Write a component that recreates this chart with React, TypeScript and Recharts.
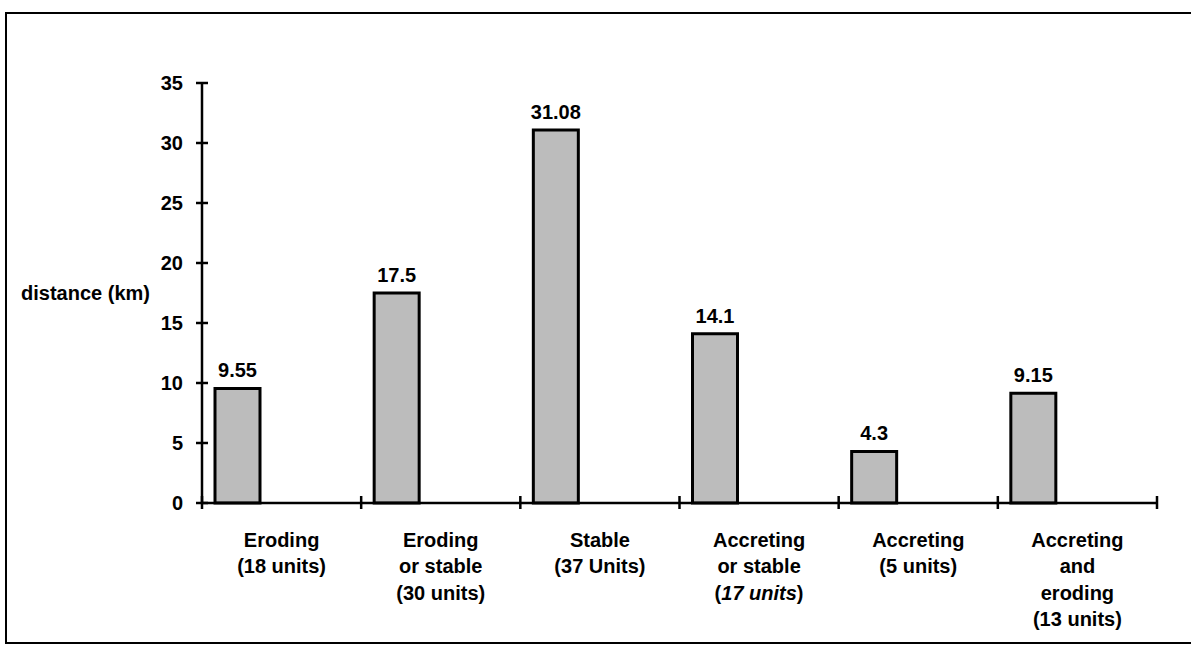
import { ComposedChart, Bar, XAxis, YAxis, LabelList } from 'recharts';

const categories = ['Eroding', 'Eroding or stable', 'Stable', 'Accreting or stable', 'Accreting', 'Accreting and eroding'];
const distances = [9.55, 17.5, 31.08, 14.1, 4.3, 9.15];
const categoryLines = [
  ['Eroding', '(18 units)'],
  ['Eroding', 'or stable', '(30 units)'],
  ['Stable', '(37 Units)'],
  ['Accreting', 'or stable', '(17 units)'],
  ['Accreting', '(5 units)'],
  ['Accreting', 'and', 'eroding', '(13 units)'],
];
const italicUnits = [false, false, false, true, false, false];
const yTicks = [0, 5, 10, 15, 20, 25, 30, 35];

const data = categories.map((name, i) => ({ name, distance: distances[i], lines: categoryLines[i], italic: italicUnits[i] }));

const FONT = '"Liberation Sans", Arial, sans-serif';

const YTick = ({ x, y, payload }: any) => (
  <g>
    <line x1={x - 6} x2={x + 6} y1={y} y2={y} stroke="#000" strokeWidth={2.5} />
    <text x={x - 19} y={y} dy="0.36em" textAnchor="end" fontFamily={FONT} fontWeight="bold" fontSize={20} fill="#000">
      {payload.value}
    </text>
  </g>
);

// category labels sit mid-band; the tick marks sit on the band edges
const CategoryTick = ({ x, y, index, width, visibleTicksCount }: any) => {
  const row = data[index];
  if (!row) return null;
  const half = width && visibleTicksCount ? width / visibleTicksCount / 2 : 0;
  const last = index === visibleTicksCount - 1;
  return (
    <g>
      {half > 0 && <line x1={x - half} x2={x - half} y1={y - 7} y2={y + 6} stroke="#000" strokeWidth={2.5} />}
      {half > 0 && last && <line x1={x + half} x2={x + half} y1={y - 7} y2={y + 6} stroke="#000" strokeWidth={2.5} />}
      <text x={x} y={y + 44} textAnchor="middle" fontFamily={FONT} fontWeight="bold" fontSize={20} fill="#000">
        {row.lines.map((line: string, i: number) => {
          const italic = row.italic && line.startsWith('(');
          return (
            <tspan key={i} x={x} dy={i === 0 ? 0 : 26.3}>
              {italic ? (
                <>
                  (<tspan fontStyle="italic">{line.slice(1, -1)}</tspan>)
                </>
              ) : line}
            </tspan>
          );
        })}
      </text>
    </g>
  );
};

export default function App() {
  return (
    <div style={{ position: 'absolute', left: 0, top: 0, width: 1191, height: 647, overflow: 'hidden', background: '#fff' }}>
      <div style={{ position: 'absolute', left: 5, top: 12, width: 1220, height: 632, border: '2.5px solid #000', boxSizing: 'border-box' }} />
      <div style={{ position: 'absolute', left: 0, top: 0 }}>
        <ComposedChart width={1191} height={647} data={data} margin={{ top: 83, right: 34, bottom: 143, left: 0 }} barGap={0}>
          <XAxis
            dataKey="name"
            height={1}
            interval={0}
            tickSize={0}
            tickMargin={0}
            tickLine={false}
            axisLine={{ stroke: '#000', strokeWidth: 2.5 }}
            tick={<CategoryTick />}
          />
          <YAxis
            width={202}
            domain={[0, 35]}
            ticks={yTicks}
            interval={0}
            tickSize={0}
            tickMargin={0}
            tickLine={false}
            axisLine={{ stroke: '#000', strokeWidth: 2.5 }}
            tick={<YTick />}
            label={{ value: 'distance (km)', position: 'insideRight', offset: 52, angle: 0, fontFamily: FONT, fontWeight: 'bold', fontSize: 20, fill: '#000' }}
          />
          <Bar dataKey="distance" barSize={45} fill="#bcbcbc" stroke="#000" strokeWidth={3} isAnimationActive={false}>
            <LabelList dataKey="distance" position="top" offset={11} fontFamily={FONT} fontWeight="bold" fontSize={20} fill="#000" />
          </Bar>
          <Bar dataKey="distance" barSize={88} fill="transparent" stroke="none" isAnimationActive={false} legendType="none" />
        </ComposedChart>
      </div>
    </div>
  );
}
